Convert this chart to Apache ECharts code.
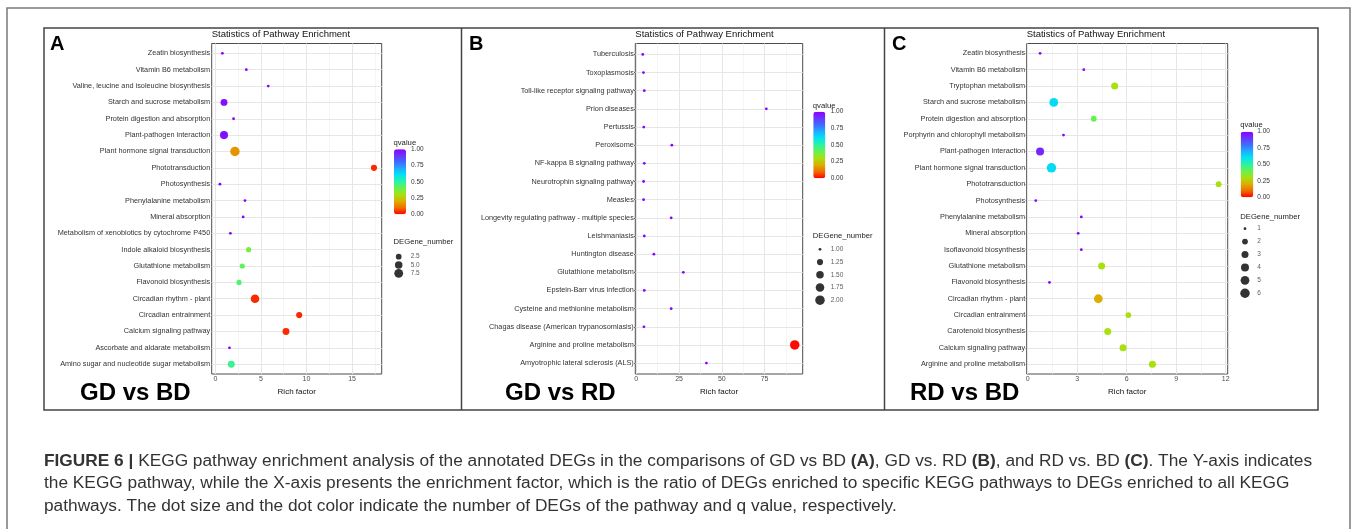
<!DOCTYPE html>
<html><head><meta charset="utf-8">
<script src="https://cdn.jsdelivr.net/npm/echarts@6/dist/echarts.min.js"></script>
<style>html,body{margin:0;padding:0;background:#fff}#c{width:1357px;height:529px}</style>
</head><body><div id="c"></div><script>
// ---------- DATA ----------
const pathwaysA = ['Zeatin biosynthesis','Vitamin B6 metabolism','Valine, leucine and isoleucine biosynthesis','Starch and sucrose metabolism','Protein digestion and absorption','Plant-pathogen interaction','Plant hormone signal transduction','Phototransduction','Photosynthesis','Phenylalanine metabolism','Mineral absorption','Metabolism of xenobiotics by cytochrome P450','Indole alkaloid biosynthesis','Glutathione metabolism','Flavonoid biosynthesis','Circadian rhythm - plant','Circadian entrainment','Calcium signaling pathway','Ascorbate and aldarate metabolism','Amino sugar and nucleotide sugar metabolism'];
const richA = [0.77,3.4,5.8,0.95,2.0,0.95,2.15,17.4,0.5,3.25,3.05,1.65,3.65,2.95,2.6,4.35,9.2,7.75,1.55,1.75];
const degA  = [1,1,1,4,1,6,9,3,1,1,1,1,2,2,2,7,3,4,1,4];
const qA    = [1,1,1,0.97,1,0.97,0.16,0.04,1,1,1,1,0.37,0.42,0.44,0.04,0.04,0.04,1,0.48];

const pathwaysB = ['Tuberculosis','Toxoplasmosis','Toll-like receptor signaling pathway','Prion diseases','Pertussis','Peroxisome','NF-kappa B signaling pathway','Neurotrophin signaling pathway','Measles','Longevity regulating pathway - multiple species','Leishmaniasis','Huntington disease','Glutathione metabolism','Epstein-Barr virus infection','Cysteine and methionine metabolism','Chagas disease (American trypanosomiasis)','Arginine and proline metabolism','Amyotrophic lateral sclerosis (ALS)'];
const richB = [3.8,4.2,4.7,76,4.4,20.8,4.7,4.3,4.3,20.4,4.7,10.3,27.5,4.7,20.4,4.5,92.6,41];
const degB  = [1,1,1,1,1,1,1,1,1,1,1,1,1,1,1,1,2,1];
const qB    = [1,1,1,1,1,1,1,1,1,1,1,1,1,1,1,1,0.01,1];

const pathwaysC = ['Zeatin biosynthesis','Vitamin B6 metabolism','Tryptophan metabolism','Starch and sucrose metabolism','Protein digestion and absorption','Porphyrin and chlorophyll metabolism','Plant-pathogen interaction','Plant hormone signal transduction','Phototransduction','Photosynthesis','Phenylalanine metabolism','Mineral absorption','Isoflavonoid biosynthesis','Glutathione metabolism','Flavonoid biosynthesis','Circadian rhythm - plant','Circadian entrainment','Carotenoid biosynthesis','Calcium signaling pathway','Arginine and proline metabolism'];
const richC = [0.75,3.4,5.27,1.58,4.0,2.17,0.75,1.44,11.57,0.49,3.25,3.06,3.25,4.48,1.32,4.28,6.1,4.85,5.78,7.56];
const degC  = [1,1,3,5,2,1,4,6,2,1,1,1,1,3,1,5,2,3,3,3];
const qC    = [1,1,0.3,0.62,0.4,1,0.93,0.62,0.3,1,1,1,1,0.3,1,0.2,0.3,0.3,0.3,0.3];

// axis breaks / legend labels
const majorA = [0,5,10,15], minorA = [2.5,7.5,12.5,17.5];
const majorB = [0,25,50,75], minorB = [12.5,37.5,62.5,87.5];
const majorC = [0,3,6,9,12], minorC = [1.5,4.5,7.5,10.5];
const sizeBreaksA = [2.5,5,7.5],   sizeLabelsA = ['2.5','5.0','7.5'];
const sizeBreaksB = [1,1.25,1.5,1.75,2], sizeLabelsB = ['1.00','1.25','1.50','1.75','2.00'];
const sizeBreaksC = [1,2,3,4,5,6], sizeLabelsC = ['1','2','3','4','5','6'];
const qBreaks = [1,0.75,0.5,0.25,0], qLabels = ['1.00','0.75','0.50','0.25','0.00'];
const comparisons = ['GD vs BD','GD vs RD','RD vs BD'];
const letters = ['A','B','C'];

// ---------- STYLE / LAYOUT ----------
const FONT = 'Liberation Sans, Arial, sans-serif';
const rampColors = ['#ff0000','#f06c00','#dcae00','#a8e010','#66f24e','#2ef2a0','#00e6f0','#1eaeff','#3c6eff','#6a36ff','#8c00ff'];
const panels = [
  {path:pathwaysA, rich:richA, deg:degA, q:qA, major:majorA, minor:minorA, xmin:-0.4, xmax:18.25,
   grid:{left:211.7, top:43.5, width:170, height:330.5},
   sb:sizeBreaksA, sl:sizeLabelsA, letterX:50, cmpX:80,
   lg:{barL:394, barT:149.3, barW:12, barH:65, labX:411, titleY:142.7, sizeTitleY:242.3, dotX:398.7, dotTop:252.5, dotH:25, labDist:12}},
  {path:pathwaysB, rich:richB, deg:degB, q:qB, major:majorB, minor:minorB, xmin:-0.55, xmax:97.25,
   grid:{left:635.3, top:43.5, width:167.4, height:330.5},
   sb:sizeBreaksB, sl:sizeLabelsB, letterX:469, cmpX:505,
   lg:{barL:813.3, barT:111.7, barW:12, barH:66.6, labX:830.7, titleY:105.7, sizeTitleY:235.7, dotX:820, dotTop:243, dotH:63.5, labDist:10.7}},
  {path:pathwaysC, rich:richC, deg:degC, q:qC, major:majorC, minor:minorC, xmin:-0.06, xmax:12.12,
   grid:{left:1026.7, top:43.5, width:201, height:330.5},
   sb:sizeBreaksC, sl:sizeLabelsC, letterX:892, cmpX:910,
   lg:{barL:1240.7, barT:131.7, barW:12.6, barH:65.6, labX:1257.3, titleY:125, sizeTitleY:217.3, dotX:1245, dotTop:222.2, dotH:77.5, labDist:12.3}}
];
function dotSize(n, M){ return 2.8 + 6.7*Math.sqrt(Math.max(0,(n-1))/(M-1)); }

const grids=[], xAxes=[], yAxes=[], series=[], visualMaps=[], graphics=[];

panels.forEach((p,i)=>{
  const M = Math.max.apply(null, p.deg);
  const idx = p.path.map((_,j)=>j);
  const gi = grids.length;
  grids.push(Object.assign({show:true, borderColor:'#4d4d4d', borderWidth:1, backgroundColor:'#fff'}, p.grid));
  xAxes.push({type:'value', gridIndex:gi, min:p.xmin, max:p.xmax,
    axisLine:{show:false}, splitLine:{show:false},
    axisTick:{show:true, length:2.5, lineStyle:{color:'#333', width:1}, customValues:p.major},
    axisLabel:{customValues:p.major, fontSize:7, color:'#4d4d4d', margin:2, fontFamily:FONT},
    name:'Rich factor', nameLocation:'middle', nameGap:11.5,
    nameTextStyle:{fontSize:8, color:'#111', fontFamily:FONT}});
  yAxes.push({type:'value', gridIndex:gi, min:-0.6, max:p.path.length-0.4, inverse:true,
    axisLine:{show:false}, splitLine:{show:false},
    axisTick:{show:true, length:2, lineStyle:{color:'#333', width:1}, customValues:idx},
    axisLabel:{customValues:idx, fontSize:7.3, color:'#333', margin:1.5, fontFamily:FONT,
      formatter:(v)=>p.path[Math.round(v)]}});
  // gridlines via markLine
  const ml = [];
  p.major.forEach(v=>ml.push({xAxis:v, lineStyle:{color:'#e6e6e6', width:1, type:'solid'}}));
  p.minor.forEach(v=>ml.push({xAxis:v, lineStyle:{color:'#f1f1f1', width:0.7, type:'solid'}}));
  idx.forEach(v=>ml.push({yAxis:v, lineStyle:{color:'#e6e6e6', width:1, type:'solid'}}));
  series.push({type:'scatter', xAxisIndex:gi, yAxisIndex:gi, data:[], z:0, silent:true,
    markLine:{silent:true, symbol:['none','none'], animation:false, label:{show:false}, data:ml}});
  const mainIdx = series.length;
  series.push({type:'scatter', xAxisIndex:gi, yAxisIndex:gi, z:10, zlevel:1,
    data:p.path.map((_,j)=>[p.rich[j], j, p.deg[j], p.q[j]]),
    symbolSize:(val)=>dotSize(val[2], M), itemStyle:{opacity:1}});
  visualMaps.push({type:'continuous', min:0, max:1, dimension:3, seriesIndex:mainIdx,
    inRange:{color:rampColors}, calculable:false, itemWidth:p.lg.barW, itemHeight:p.lg.barH,
    left:p.lg.barL, top:p.lg.barT, padding:0, text:null, showLabel:false, hoverLink:false});
  // size legend grid
  const lgi = grids.length;
  grids.push({left:p.lg.dotX, top:p.lg.dotTop, width:10, height:p.lg.dotH, show:false});
  xAxes.push({type:'value', gridIndex:lgi, min:0, max:1, show:false});
  yAxes.push({type:'category', gridIndex:lgi, data:p.sl, inverse:true, show:false});
  series.push({type:'scatter', xAxisIndex:lgi, yAxisIndex:lgi, silent:true,
    data:p.sb.map((b,k)=>[0, k, b]), symbolSize:(val)=>dotSize(val[2], M), itemStyle:{color:'#000'}});
  series.push({type:'scatter', xAxisIndex:lgi, yAxisIndex:lgi, silent:true, symbolSize:0,
    data:p.sl.map((l,k)=>[0, k]),
    label:{show:true, position:'right', distance:p.lg.labDist, formatter:(pa)=>p.sl[pa.dataIndex],
      fontSize:6.5, color:'#333', fontFamily:FONT}});
  // texts
  graphics.push({type:'text', style:{x:p.grid.left, y:34.5, text:'Statistics of Pathway Enrichment',
    fontSize:9.5, fontFamily:FONT, fill:'#111', verticalAlign:'middle', textVerticalAlign:'middle'}});
  graphics.push({type:'text', style:{x:p.letterX, y:44, text:letters[i], fontSize:20, fontWeight:'bold',
    fontFamily:FONT, fill:'#000', verticalAlign:'middle', textVerticalAlign:'middle'}});
  graphics.push({type:'text', style:{x:p.cmpX, y:393, text:comparisons[i], fontSize:24, fontWeight:'bold',
    fontFamily:FONT, fill:'#000', verticalAlign:'middle', textVerticalAlign:'middle'}});
  graphics.push({type:'text', style:{x:p.lg.barL-0.5, y:p.lg.titleY, text:'qvalue', fontSize:7.7,
    fontFamily:FONT, fill:'#222', verticalAlign:'middle', textVerticalAlign:'middle'}});
  graphics.push({type:'text', style:{x:p.lg.barL-0.5, y:p.lg.sizeTitleY, text:'DEGene_number', fontSize:7.7,
    fontFamily:FONT, fill:'#222', verticalAlign:'middle', textVerticalAlign:'middle'}});
  qBreaks.forEach((b,k)=>{
    graphics.push({type:'text', style:{x:p.lg.labX, y:p.lg.barT + (1-b)*p.lg.barH, text:qLabels[k],
      fontSize:6.5, fontFamily:FONT, fill:'#333', verticalAlign:'middle', textVerticalAlign:'middle'}});
  });
});

// frames
graphics.push({type:'rect', shape:{x:7, y:8, width:1343, height:540}, style:{fill:'none', stroke:'#7a7a7a', lineWidth:1.5}, z:-1});
graphics.push({type:'rect', shape:{x:44, y:28, width:1274, height:382}, style:{fill:'none', stroke:'#444', lineWidth:1.5}, z:-1});
graphics.push({type:'line', shape:{x1:461.5, y1:28, x2:461.5, y2:410}, style:{stroke:'#444', lineWidth:1.5}});
graphics.push({type:'line', shape:{x1:884.5, y1:28, x2:884.5, y2:410}, style:{stroke:'#444', lineWidth:1.5}});

// caption
const capFont = 'Liberation Sans, Arial, sans-serif';
const CAPSIZE = 17.3;
const capRich = {b:{fontWeight:'bold', fontSize:CAPSIZE, fontFamily:capFont, fill:'#333'}, n:{fontSize:CAPSIZE, fontFamily:capFont, fill:'#333'}};
const capLines = [
  '{b|FIGURE 6 |}{n| KEGG pathway enrichment analysis of the annotated DEGs in the comparisons of GD vs BD }{b|(A)}{n|, GD vs. RD }{b|(B)}{n|, and RD vs. BD }{b|(C)}{n|. The Y-axis indicates}',
  '{n|the KEGG pathway, while the X-axis presents the enrichment factor, which is the ratio of DEGs enriched to specific KEGG pathways to DEGs enriched to all KEGG}',
  '{n|pathways. The dot size and the dot color indicate the number of DEGs of the pathway and q value, respectively.}'
];
const capY = [461, 483.5, 506];
capLines.forEach((t,k)=>{
  graphics.push({type:'text', style:{x:44, y:capY[k], text:t, rich:capRich, fontSize:CAPSIZE, fontFamily:capFont,
    fill:'#333', verticalAlign:'middle', textVerticalAlign:'middle'}});
});

const chart = echarts.init(document.getElementById('c'), null, {renderer:'canvas'});
chart.setOption({animation:false, backgroundColor:'#fff', grid:grids, xAxis:xAxes, yAxis:yAxes,
  series:series, visualMap:visualMaps, graphic:graphics});
</script></body></html>
